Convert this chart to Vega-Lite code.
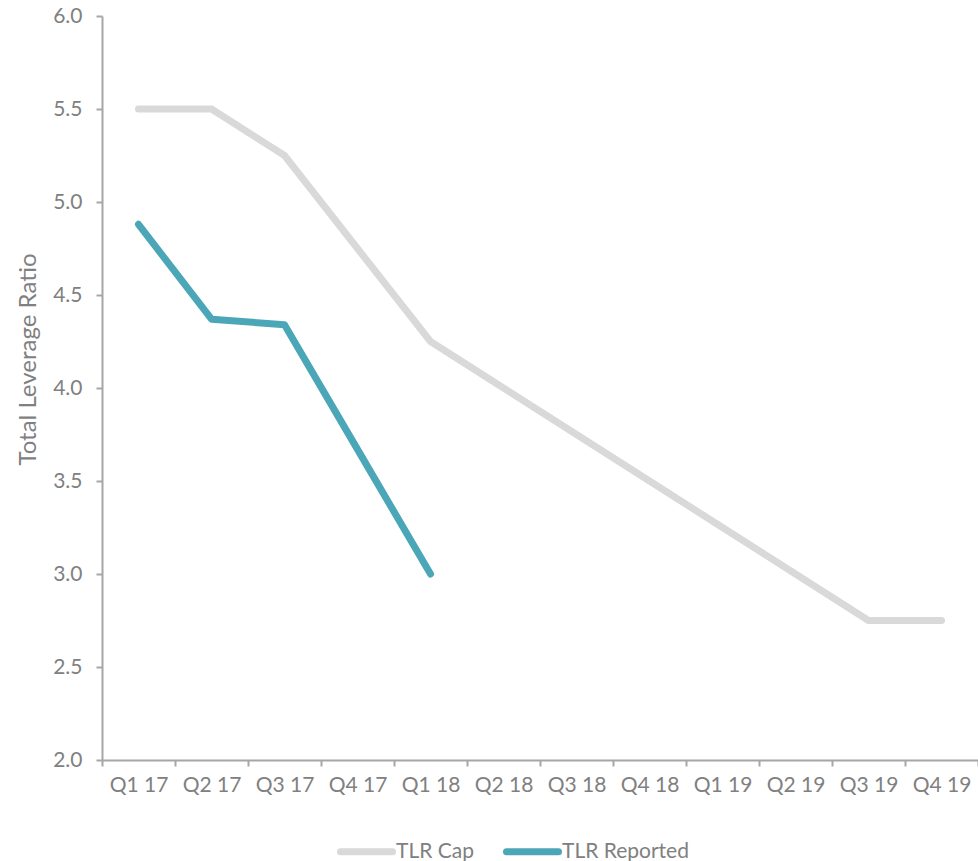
{
  "$schema": "https://vega.github.io/schema/vega-lite/v6.json",
  "width": 876,
  "height": 744,
  "autosize": {"type": "none"},
  "padding": {"left": 102, "top": 16, "right": 0, "bottom": 101},
  "background": "white",
  "config": {
    "view": {"stroke": null},
    "font": "Lato"
  },
  "data": {
    "values": [
      {"quarter": "Q1 17", "series": "TLR Cap", "ratio": 5.5},
      {"quarter": "Q2 17", "series": "TLR Cap", "ratio": 5.5},
      {"quarter": "Q3 17", "series": "TLR Cap", "ratio": 5.25},
      {"quarter": "Q4 17", "series": "TLR Cap", "ratio": 4.75},
      {"quarter": "Q1 18", "series": "TLR Cap", "ratio": 4.25},
      {"quarter": "Q2 18", "series": "TLR Cap", "ratio": 4.0},
      {"quarter": "Q3 18", "series": "TLR Cap", "ratio": 3.75},
      {"quarter": "Q4 18", "series": "TLR Cap", "ratio": 3.5},
      {"quarter": "Q1 19", "series": "TLR Cap", "ratio": 3.25},
      {"quarter": "Q2 19", "series": "TLR Cap", "ratio": 3.0},
      {"quarter": "Q3 19", "series": "TLR Cap", "ratio": 2.75},
      {"quarter": "Q4 19", "series": "TLR Cap", "ratio": 2.75},
      {"quarter": "Q1 17", "series": "TLR Reported", "ratio": 4.88},
      {"quarter": "Q2 17", "series": "TLR Reported", "ratio": 4.37},
      {"quarter": "Q3 17", "series": "TLR Reported", "ratio": 4.34},
      {"quarter": "Q4 17", "series": "TLR Reported", "ratio": 3.67},
      {"quarter": "Q1 18", "series": "TLR Reported", "ratio": 3.0}
    ]
  },
  "mark": {"type": "line", "strokeWidth": 7, "strokeCap": "round", "strokeJoin": "round"},
  "encoding": {
    "x": {
      "field": "quarter",
      "type": "ordinal",
      "sort": null,
      "bandPosition": 0.5,
      "scale": {"type": "band", "paddingInner": 0, "paddingOuter": 0},
      "axis": {
        "title": null,
        "labelAngle": 0,
        "tickBand": "extent",
        "domainColor": "#A6A6A6",
        "domainWidth": 2,
        "tickColor": "#A6A6A6",
        "tickWidth": 2,
        "tickSize": 6,
        "labelColor": "#808080",
        "labelFontSize": 21,
        "labelPadding": 8
      }
    },
    "y": {
      "field": "ratio",
      "type": "quantitative",
      "scale": {"domain": [2, 6], "nice": false, "zero": false},
      "axis": {
        "title": "Total Leverage Ratio",
        "titleColor": "#808080",
        "titleFontSize": 24,
        "titleFontWeight": "normal",
        "titlePadding": 12,
        "titleY": 343,
        "values": [2, 2.5, 3, 3.5, 4, 4.5, 5, 5.5, 6],
        "format": ".1f",
        "grid": false,
        "domainColor": "#A6A6A6",
        "domainWidth": 2,
        "tickColor": "#A6A6A6",
        "tickWidth": 2,
        "tickSize": 6,
        "labelColor": "#808080",
        "labelFontSize": 21,
        "labelPadding": 14
      }
    },
    "color": {
      "field": "series",
      "type": "nominal",
      "scale": {"domain": ["TLR Cap", "TLR Reported"], "range": ["#D9D9D9", "#4BA6B7"]},
      "legend": {
        "title": null,
        "orient": "none",
        "direction": "horizontal",
        "legendX": 235,
        "legendY": 806,
        "symbolType": "stroke",
        "symbolSize": 2704,
        "symbolStrokeWidth": 7,
        "labelFontSize": 21,
        "labelColor": "#808080",
        "labelOffset": 0,
        "columnPadding": 18,
        "encode": {"symbols": {"update": {"strokeCap": {"value": "round"}}}}
      }
    }
  }
}
